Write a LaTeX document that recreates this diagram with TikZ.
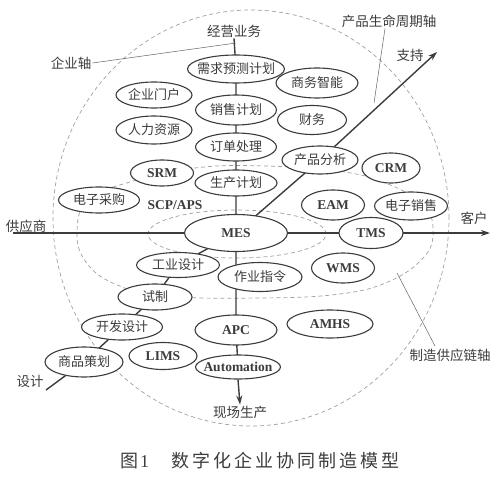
\documentclass[tikz,border=0pt]{standalone}
\usepackage{fontspec}
\setmainfont{Noto Sans CJK SC}
\newfontfamily\lat{Liberation Serif}
\usetikzlibrary{shapes.geometric,arrows.meta}
\pgfdeclarelayer{bg}
\pgfsetlayers{bg,main}
\definecolor{ink}{HTML}{3C3C3C}
\definecolor{dashc}{HTML}{A0A0A0}
\newcommand\zw[1]{\makebox[0pt]{#1}}
\tikzset{
  el/.style={ellipse, draw=ink, line width=1.1pt, fill=white, inner sep=0pt, text=ink,
             font=\fontsize{13}{15}\selectfont},
  en/.style={el, font=\lat\bfseries\fontsize{13.5}{15}\selectfont},
  lbl/.style={text=ink, inner sep=1pt, font=\fontsize{13.5}{15}\selectfont},
  axisl/.style={draw=ink, line width=1.4pt},
  lead/.style={draw=ink!80, line width=0.5pt},
  dline/.style={draw=dashc, dash pattern=on 4pt off 3pt, line width=0.7pt},
  tipa/.style={-{Stealth[length=9pt,width=6pt]}}
}
\begin{document}
\begin{tikzpicture}[x=1pt,y=-1pt]
\useasboundingbox (0,0) rectangle (500,476);
% text labels
\node[lbl] (jy) at (234,31) {经营业务};
\node[lbl] (qyz) at (71,63) {企业轴};
\node[lbl] (smz) at (389,21) {产品生命周期轴};
\node[lbl] (zc) at (410,55) {支持};
\node[lbl] (gys) at (26,226) {供应商};
\node[lbl] (kh) at (474,218) {客户};
\node[lbl] (sjt) at (30,381) {设计};
\node[lbl] (xc) at (240,412) {现场生产};
\node[lbl] (zzl) at (450,355) {制造供应链轴};
\node[text=ink, inner sep=1pt, font=\lat\bfseries\fontsize{13.5}{15}\selectfont] (scp) at (175,205) {SCP/APS};
% ellipses on the enterprise axis
\node[el, minimum width=97pt, minimum height=28pt] (xq) at (236,69) {\zw{需求预测计划}};
\node[el, minimum width=81pt, minimum height=30pt] (xs) at (236,110) {\zw{销售计划}};
\node[el, minimum width=81pt, minimum height=28pt] (dd) at (236,147) {\zw{订单处理}};
\node[el, minimum width=82pt, minimum height=26pt] (sc) at (236,183) {\zw{生产计划}};
\node[en, minimum width=103pt, minimum height=37pt] (mes) at (236,233) {\zw{MES}};
\node[el, minimum width=84pt, minimum height=29pt] (zy) at (260,277) {\zw{作业指令}};
\node[en, minimum width=82pt, minimum height=30pt] (apc) at (236,330) {\zw{APC}};
\node[en, minimum width=85pt, minimum height=24pt] (auto) at (238,367) {\zw{Automation}};
% other ellipses
\node[el, minimum width=76pt, minimum height=26pt] (qm) at (154,95) {\zw{企业门户}};
\node[el, minimum width=76pt, minimum height=28pt] (rl) at (154,130) {\zw{人力资源}};
\node[el, minimum width=82pt, minimum height=30pt] (sw) at (317,83) {\zw{商务智能}};
\node[el, minimum width=69pt, minimum height=29pt] (cw) at (312,120) {\zw{财务}};
\node[el, minimum width=76pt, minimum height=28pt] (cp) at (320,160) {\zw{产品分析}};
\node[en, minimum width=58pt, minimum height=30pt] (crm) at (391,168) {\zw{CRM}};
\node[en, minimum width=63pt, minimum height=30pt] (eam) at (333,205) {\zw{EAM}};
\node[el, minimum width=73pt, minimum height=28pt] (dx) at (411,206) {\zw{电子销售}};
\node[en, minimum width=64pt, minimum height=31pt] (tms) at (371,233) {\zw{TMS}};
\node[en, minimum width=63pt, minimum height=30pt] (wms) at (343,268) {\zw{WMS}};
\node[en, minimum width=63pt, minimum height=26pt] (srm) at (162,173) {\zw{SRM}};
\node[el, minimum width=81pt, minimum height=26pt] (dc) at (99,200) {\zw{电子采购}};
\node[el, minimum width=83pt, minimum height=25pt] (gy) at (178,265) {\zw{工业设计}};
\node[el, minimum width=74pt, minimum height=26pt] (sz) at (155,297) {\zw{试制}};
\node[el, minimum width=81pt, minimum height=26pt] (kf) at (122,327) {\zw{开发设计}};
\node[en, minimum width=86pt, minimum height=28pt] (amhs) at (330,324) {\zw{AMHS}};
\node[el, minimum width=78pt, minimum height=30pt] (sp) at (84,362) {\zw{商品策划}};
\node[en, minimum width=68pt, minimum height=27pt] (lims) at (163,356) {\zw{LIMS}};
% caption
\node[anchor=west, text=ink, inner sep=0pt, font=\fontsize{18}{20}\selectfont] (cap) at (120,461)
  {图\kern2pt{\lat 1}\hspace{22pt}数\kern3pt 字\kern3pt 化\kern3pt 企\kern3pt 业\kern3pt 协\kern3pt 同\kern3pt 制\kern3pt 造\kern3pt 模\kern3pt 型};
% free ends
\coordinate (hl) at (13,233);
\coordinate (hr) at (490,233);
\coordinate (sj) at (46,390);
\coordinate (ztip) at (437,52);
\coordinate (qb) at (236,43);
\coordinate (pb) at (374,103);
\coordinate (ma) at (435,346);
\coordinate (mb) at (397,273);
\begin{pgfonlayer}{bg}
  % dashed regions
  \draw[dline] (251,218) ellipse [x radius=198pt, y radius=208pt];
  \draw[dline] plot[smooth cycle, tension=0.7] coordinates {(77,232) (88,200) (130,182) (195,168) (265,166) (345,172) (395,187) (425,207) (433,232) (424,257) (390,281) (340,294) (260,298) (165,296) (115,284) (86,262)};
  \draw[dline] (237,234) ellipse [x radius=89pt, y radius=24pt];
  % enterprise axis
  \draw[axisl] (jy.south) -- (xq.center) -- (xs.center) -- (dd.center) -- (sc.center) -- (mes.center) -- (apc.center) -- (auto.center);
  \draw[axisl, tipa] (auto.south) -- (xc.north);
  % supply chain axis
  \draw[axisl] (hl) -- (mes.center) -- (tms.center);
  \draw[axisl, tipa] (tms.center) -- (hr);
  % design axis
  \draw[axisl] (sj) -- (sp.center) -- (kf.center) -- (sz.center) -- (gy.center) -- (mes.center);
  % product life cycle axis
  \draw[axisl] (mes.center) -- (cp.center);
  \draw[axisl, tipa] (cp.center) -- (ztip);
  % leaders
  \draw[lead] (qyz.east) -- (qb);
  \draw[lead] ([xshift=-4pt]smz.south) -- (pb);
  \draw[lead] (ma) -- (mb);
\end{pgfonlayer}
\end{tikzpicture}
\end{document}
